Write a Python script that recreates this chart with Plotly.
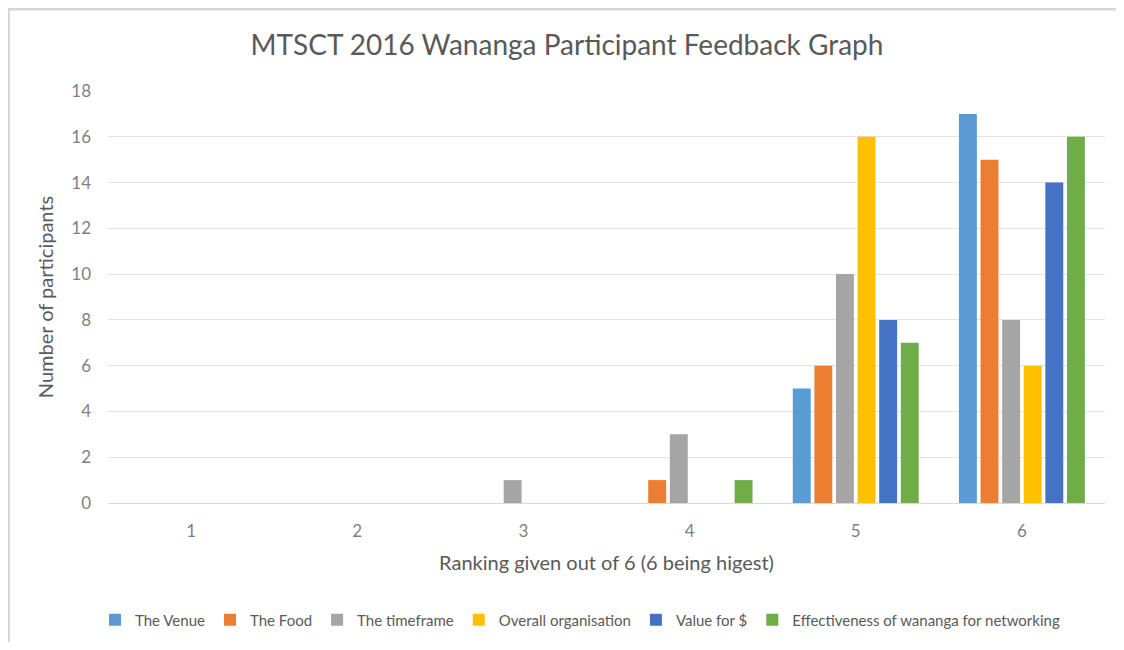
import plotly.graph_objects as go

categories = ["1", "2", "3", "4", "5", "6"]
series_names = ["The Venue", "The Food", "The timeframe", "Overall organisation",
                "Value for $", "Effectiveness of wananga for networking"]
venue = [0, 0, 0, 0, 5, 17]
food = [0, 0, 0, 1, 6, 15]
timeframe = [0, 0, 1, 3, 10, 8]
organisation = [0, 0, 0, 0, 16, 6]
value = [0, 0, 0, 0, 8, 14]
networking = [0, 0, 0, 1, 7, 16]
colors = ["#5B9BD5", "#ED7D31", "#A5A5A5", "#FFC000", "#4472C4", "#70AD47"]
y_ticks = [0, 2, 4, 6, 8, 10, 12, 14, 16, 18]

FONT = "Lato, 'Open Sans', sans-serif"

fig = go.Figure()
for name, vals, col in zip(series_names,
                           [venue, food, timeframe, organisation, value, networking],
                           colors):
    fig.add_trace(go.Bar(x=categories, y=vals, name=name,
                         marker=dict(color=col, line=dict(width=0))))

# page body has an 8px margin; figure coordinates = window coordinates - 8
OFF = 8
W, H = 1124 - 2 * OFF, 650 - 2 * OFF
L = 108 - OFF
T = 91 - OFF
B = H - (503 - OFF)
R = W - (1105 - OFF)
pw, ph = W - L - R, H - T - B

def px(x):
    return (x - L) / pw

def py(y):
    return (H - B - y) / ph

fig.update_layout(
    width=W, height=H,
    margin=dict(l=L, r=R, t=T, b=B),
    paper_bgcolor="white", plot_bgcolor="white",
    barmode="group", bargap=0.22, bargroupgap=0.17,
    font=dict(family=FONT, color="#595959"),
    title=dict(text="MTSCT 2016 Wananga Participant Feedback Graph",
               x=(567 - OFF) / W, xref="container", xanchor="center",
               y=1 - (45 - OFF) / H, yanchor="middle",
               font=dict(size=28, color="#595959", family=FONT)),
    xaxis=dict(type="category", showgrid=False, showline=False, ticks="",
               ticklabelstandoff=16,
               tickfont=dict(size=17, color="#7f7f7f"),
               title=dict(text="Ranking given out of 6 (6 being higest)",
                          font=dict(size=20, color="#595959"), standoff=15)),
    yaxis=dict(range=[0, 18], tickvals=y_ticks, showgrid=True, gridcolor="#e3e3e3",
               gridwidth=1, zeroline=True, zerolinecolor="#d9d9d9", zerolinewidth=1,
               showline=False, ticks="", ticklabelstandoff=16,
               tickfont=dict(size=17, color="#7f7f7f"),
               title=dict(text="Number of participants",
                          font=dict(size=20, color="#595959"), standoff=12)),
    legend=dict(orientation="h", x=(580 - OFF) / W, xanchor="center", xref="container",
                y=1 - (620 - OFF) / H, yref="container", yanchor="middle",
                font=dict(size=15, color="#595959"),
                itemwidth=30, traceorder="normal", tracegroupgap=0),
    shapes=[
        dict(type="line", xref="paper", yref="paper", x0=px(1), x1=px(1),
             y0=py(0), y1=py(H), line=dict(color="#d6d6d6", width=2)),
        dict(type="line", xref="paper", yref="paper", x0=px(0), x1=px(W),
             y0=py(1), y1=py(1), line=dict(color="#d6d6d6", width=3)),
    ],
)

fig.write_html("out.html")
